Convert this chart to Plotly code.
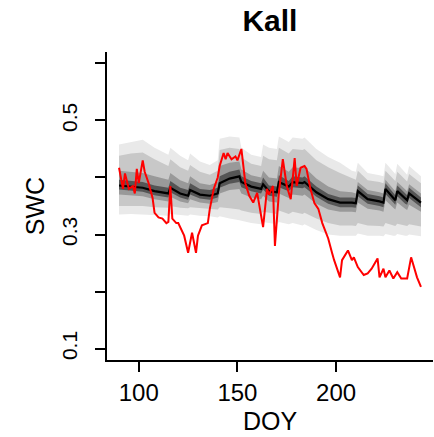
import plotly.graph_objects as go

# Observed soil water content (red)
obs_doy = [90, 92, 93, 95, 97, 98, 99, 100, 102, 103, 105, 107, 108, 110, 112, 114, 115, 116, 117,
           119, 120, 122, 123, 125, 127, 129, 130, 132, 135, 136, 138, 140, 141, 143, 144, 145, 147,
           149, 150, 152, 154, 156, 158, 160, 162, 163, 165, 166, 168, 169, 171, 173, 175, 177, 179,
           180, 182, 184, 185, 187, 189, 191, 193, 196, 198, 199, 202, 203, 206, 208, 209, 211, 214,
           216, 218, 221, 222, 224, 225, 227, 229, 231, 233, 236, 238, 240, 241, 243]
obs_swc = [0.417, 0.380, 0.407, 0.380, 0.385, 0.372, 0.415, 0.390, 0.430, 0.410, 0.390, 0.364, 0.338,
           0.330, 0.328, 0.320, 0.322, 0.385, 0.328, 0.320, 0.320, 0.305, 0.298, 0.268, 0.303, 0.268,
           0.298, 0.316, 0.320, 0.345, 0.380, 0.400, 0.420, 0.443, 0.432, 0.443, 0.432, 0.437, 0.430,
           0.450, 0.390, 0.368, 0.356, 0.373, 0.333, 0.313, 0.380, 0.370, 0.385, 0.280, 0.373, 0.432,
           0.385, 0.362, 0.434, 0.385, 0.417, 0.420, 0.415, 0.380, 0.355, 0.345, 0.320, 0.293, 0.267,
           0.255, 0.225, 0.255, 0.272, 0.255, 0.260, 0.243, 0.229, 0.232, 0.240, 0.258, 0.225, 0.240,
           0.225, 0.237, 0.223, 0.234, 0.223, 0.223, 0.260, 0.234, 0.225, 0.208]

# Model ensemble (median and quantile bands)
mod_doy = [90, 96, 102, 108, 115, 116, 121, 125, 126, 131, 136, 140, 141, 146, 151, 152, 157, 162,
           163, 166, 170, 171, 176, 178, 183, 184, 190, 196, 202, 208, 210, 211, 216, 222, 224, 225,
           229, 230, 231, 235, 236, 237, 243]
med = [0.386, 0.384, 0.382, 0.376, 0.372, 0.382, 0.372, 0.368, 0.378, 0.370, 0.368, 0.372, 0.390,
       0.398, 0.402, 0.392, 0.384, 0.380, 0.388, 0.376, 0.374, 0.392, 0.384, 0.392, 0.390, 0.392,
       0.374, 0.362, 0.356, 0.356, 0.355, 0.376, 0.362, 0.358, 0.356, 0.380, 0.364, 0.360, 0.376,
       0.362, 0.360, 0.372, 0.356]
hi1 = [0.458, 0.462, 0.466, 0.452, 0.440, 0.452, 0.438, 0.430, 0.442, 0.428, 0.422, 0.430, 0.468,
       0.472, 0.470, 0.452, 0.440, 0.436, 0.458, 0.452, 0.450, 0.472, 0.462, 0.470, 0.468, 0.470,
       0.450, 0.436, 0.426, 0.412, 0.410, 0.426, 0.408, 0.404, 0.402, 0.426, 0.410, 0.406, 0.424,
       0.408, 0.405, 0.420, 0.402]
lo1 = [0.335, 0.336, 0.336, 0.334, 0.333, 0.336, 0.334, 0.333, 0.335, 0.333, 0.332, 0.330, 0.332,
       0.328, 0.325, 0.324, 0.320, 0.318, 0.322, 0.320, 0.318, 0.322, 0.318, 0.320, 0.316, 0.318,
       0.308, 0.300, 0.298, 0.298, 0.298, 0.302, 0.298, 0.298, 0.297, 0.301, 0.298, 0.298, 0.301,
       0.298, 0.298, 0.300, 0.297]
hi2 = [0.438, 0.442, 0.444, 0.432, 0.420, 0.432, 0.418, 0.412, 0.422, 0.410, 0.405, 0.412, 0.448,
       0.452, 0.450, 0.435, 0.424, 0.420, 0.438, 0.432, 0.430, 0.452, 0.442, 0.450, 0.448, 0.450,
       0.430, 0.418, 0.408, 0.398, 0.396, 0.412, 0.395, 0.392, 0.390, 0.412, 0.398, 0.394, 0.410,
       0.396, 0.393, 0.406, 0.390]
lo2 = [0.350, 0.350, 0.350, 0.348, 0.347, 0.350, 0.347, 0.346, 0.348, 0.346, 0.345, 0.344, 0.348,
       0.346, 0.344, 0.342, 0.338, 0.336, 0.340, 0.338, 0.336, 0.342, 0.336, 0.340, 0.336, 0.338,
       0.328, 0.320, 0.316, 0.316, 0.315, 0.320, 0.316, 0.315, 0.314, 0.320, 0.316, 0.315, 0.319,
       0.316, 0.315, 0.318, 0.314]
hi3 = [0.412, 0.410, 0.408, 0.402, 0.396, 0.408, 0.395, 0.390, 0.402, 0.390, 0.387, 0.392, 0.420,
       0.426, 0.428, 0.414, 0.404, 0.400, 0.412, 0.400, 0.398, 0.420, 0.410, 0.418, 0.416, 0.418,
       0.398, 0.384, 0.376, 0.374, 0.372, 0.392, 0.378, 0.374, 0.372, 0.396, 0.380, 0.376, 0.392,
       0.378, 0.376, 0.388, 0.372]
lo3 = [0.370, 0.369, 0.367, 0.362, 0.358, 0.366, 0.358, 0.355, 0.362, 0.356, 0.354, 0.357, 0.372,
       0.378, 0.380, 0.372, 0.365, 0.362, 0.368, 0.358, 0.356, 0.372, 0.364, 0.370, 0.368, 0.370,
       0.354, 0.344, 0.340, 0.340, 0.339, 0.356, 0.345, 0.342, 0.340, 0.360, 0.347, 0.344, 0.356,
       0.345, 0.343, 0.352, 0.340]
hi4 = [0.396, 0.394, 0.392, 0.386, 0.382, 0.394, 0.382, 0.378, 0.390, 0.380, 0.378, 0.382, 0.402,
       0.410, 0.414, 0.402, 0.394, 0.390, 0.400, 0.386, 0.384, 0.404, 0.394, 0.402, 0.400, 0.402,
       0.384, 0.371, 0.365, 0.365, 0.364, 0.386, 0.371, 0.367, 0.365, 0.390, 0.373, 0.369, 0.386,
       0.371, 0.369, 0.382, 0.365]
lo4 = [0.379, 0.377, 0.375, 0.369, 0.365, 0.374, 0.365, 0.361, 0.370, 0.363, 0.361, 0.365, 0.382,
       0.389, 0.392, 0.383, 0.376, 0.372, 0.379, 0.368, 0.366, 0.383, 0.376, 0.383, 0.381, 0.383,
       0.366, 0.354, 0.348, 0.348, 0.347, 0.367, 0.354, 0.350, 0.348, 0.371, 0.356, 0.352, 0.367,
       0.354, 0.352, 0.364, 0.348]

y_ticks = [0.1, 0.2, 0.3, 0.4, 0.5, 0.6]
y_labels = ["0.1", "", "0.3", "", "0.5", ""]
x_ticks = [100, 150, 200]

FONT = "Liberation Sans, Arial, sans-serif"

fig = go.Figure()
bands = [(lo1, hi1, "#e9e9e9"), (lo2, hi2, "#c8c8c8"), (lo3, hi3, "#999999"), (lo4, hi4, "#555555")]
for lo, hi, col in bands:
    fig.add_trace(go.Scatter(
        x=mod_doy + mod_doy[::-1], y=hi + lo[::-1],
        fill="toself", fillcolor=col, line=dict(width=0),
        mode="lines", hoverinfo="skip", showlegend=False))
fig.add_trace(go.Scatter(x=mod_doy, y=med, mode="lines",
                         line=dict(color="black", width=2.2), showlegend=False))
fig.add_trace(go.Scatter(x=obs_doy, y=obs_swc, mode="lines",
                         line=dict(color="#ff0000", width=2), showlegend=False))

fig.update_layout(
    width=434, height=437,
    margin=dict(l=107, r=1, t=52, b=77),
    paper_bgcolor="white", plot_bgcolor="white",
    font=dict(family=FONT, color="black"),
    title=dict(text="Kall", x=0.622, xanchor="center", y=1 - 20 / 437, yanchor="middle",
               font=dict(size=30, family=FONT, weight="bold")),
    xaxis=dict(range=[83.9, 249.1], showline=True, linecolor="black", linewidth=2,
               ticks="outside", ticklen=10, tickwidth=2, tickcolor="black",
               tickvals=x_ticks, tickfont=dict(size=24), showgrid=False, zeroline=False,
               title=dict(text="DOY", font=dict(size=25), standoff=8)),
    yaxis=dict(range=[0.08, 0.62], showline=True, linecolor="black", linewidth=2,
               ticks="outside", ticklen=10, tickwidth=2, tickcolor="black",
               tickvals=y_ticks, ticktext=y_labels, tickangle=-90, tickfont=dict(size=21),
               ticklabelstandoff=10, showgrid=False, zeroline=False,
               title=dict(text="SWC", font=dict(size=25), standoff=6)),
)

fig.write_html("out.html")
